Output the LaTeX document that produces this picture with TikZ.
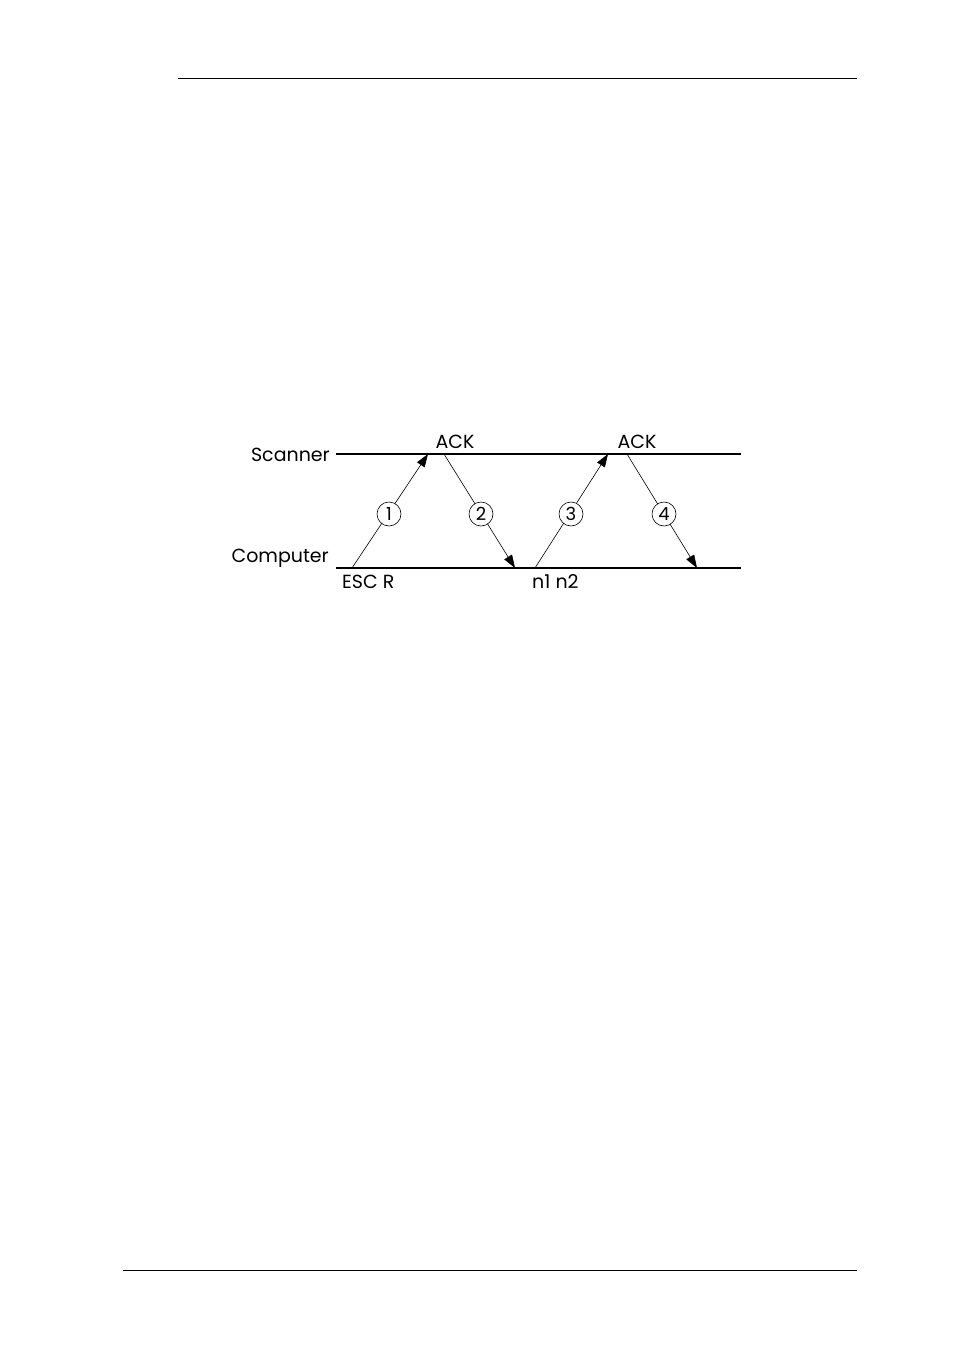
\documentclass[tikz,border=0pt]{standalone}
\usepackage{fontspec}
\setmainfont{Poppins}
\usetikzlibrary{arrows.meta}
\begin{document}
\begin{tikzpicture}[x=1pt,y=-1pt,
  lbl/.style={font=\fontsize{19}{22}\selectfont, inner sep=0pt},
  msg/.style={line width=0.6pt, -{Triangle[length=13pt,width=9pt]}},
  num/.style={circle, draw, line width=0.6pt, fill=white, minimum size=24pt, inner sep=0pt, font=\fontsize{18}{20}\selectfont},
  timeline/.style={line width=1.3pt},
  rule/.style={line width=0.8pt}]
\useasboundingbox (0,0) rectangle (954,1365);
% page rules
\coordinate (r1a) at (178,78); \coordinate (r1b) at (857,78);
\coordinate (r2a) at (123,1270); \coordinate (r2b) at (857,1270);
\draw[rule] (r1a) -- (r1b);
\draw[rule] (r2a) -- (r2b);
% timelines
\coordinate (sA) at (336,454); \coordinate (sB) at (741,454);
\coordinate (cA) at (336,568); \coordinate (cB) at (741,568);
\draw[timeline] (sA) -- (sB);
\draw[timeline] (cA) -- (cB);
\node[lbl, anchor=east] (scanner) at (330,455) {Scanner};
\node[lbl, anchor=east] (computer) at (329,558) {Computer};
% message points
\coordinate (c1) at (352,568);
\coordinate (s1) at (428,454);
\coordinate (s2) at (444,454);
\coordinate (c2) at (515,568);
\coordinate (c3) at (535,568);
\coordinate (s3) at (608,454);
\coordinate (s4) at (627,454);
\coordinate (c4) at (697,568);
\draw[msg] (c1) -- (s1);
\draw[msg] (s2) -- (c2);
\draw[msg] (c3) -- (s3);
\draw[msg] (s4) -- (c4);
\node[num] (n1) at (389,514) {1};
\node[num] (n2) at (481,514) {2};
\node[num] (n3) at (571,514) {3};
\node[num] (n4) at (664,514) {4};
\node[lbl] (ack1) at (455,442) {ACK};
\node[lbl] (ack2) at (637,442) {ACK};
\node[lbl, anchor=west] (esc) at (342,582) {ESC R};
\node[lbl, anchor=west] (nn) at (532,582) {n1 n2};
\end{tikzpicture}
\end{document}
